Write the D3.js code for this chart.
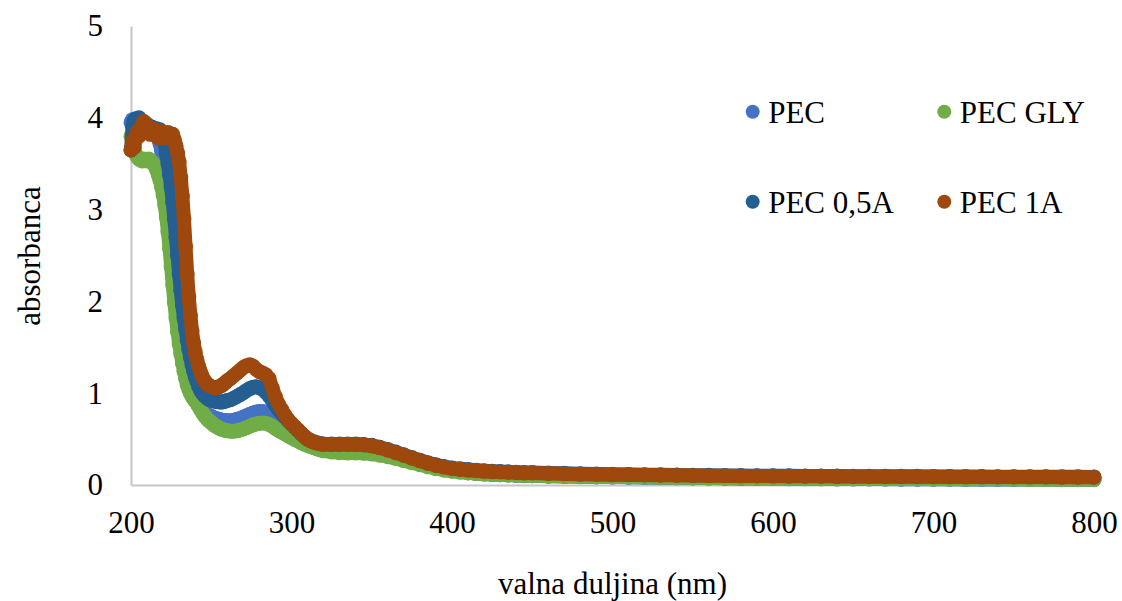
<!DOCTYPE html>
<html>
<head>
<meta charset="utf-8">
<script src="https://cdn.jsdelivr.net/npm/d3@7"></script>
<style>
  html, body { margin: 0; padding: 0; background: #ffffff; }
  svg { display: block; }
</style>
</head>
<body>
<div id="chart"></div>
<script>
// ---- DATA ----
const wavelength = [
  200,201,202,203,204,205,206,207,208,209,
  210,211,212,213,214,215,216,217,218,219,
  220,221,222,223,224,225,226,227,228,229,
  230,231,232,233,234,235,236,237,238,239,
  240,241,242,243,244,245,246,247,248,249,
  250,251,252,253,254,255,256,257,258,259,
  260,
  262,264,266,268,270,272,274,276,278,280,
  282,284,286,288,290,292,294,296,298,300,
  302,304,306,308,310,312,314,316,318,320,
  325,330,335,340,345,350,355,360,365,370,
  375,380,385,390,395,400,405,410,415,420,
  425,430,435,440,445,450,
  460,470,480,490,500,510,520,530,540,550,
  560,570,580,590,600,610,620,630,640,650,
  660,670,680,690,700,710,720,730,740,750,
  760,770,780,790,800
];

const seriesNames = ["PEC", "PEC GLY", "PEC 0,5A", "PEC 1A"];

const pec = [
  3.95,3.98,3.94,3.90,3.92,3.88,3.90,3.86,3.88,3.85,
  3.87,3.84,3.86,3.83,3.85,3.84,3.82,3.78,3.72,3.64,
  3.55,3.42,3.27,3.10,2.92,2.74,2.55,2.37,2.20,2.04,
  1.89,1.75,1.62,1.51,1.41,1.32,1.24,1.17,1.10,1.04,
  0.98,0.94,0.90,0.87,0.84,0.815,0.795,0.78,0.765,0.755,
  0.745,0.737,0.73,0.724,0.718,0.713,0.709,0.705,0.702,0.70,
  0.70,
  0.70,0.705,0.715,0.725,0.74,0.755,0.77,0.785,0.795,0.80,
  0.80,0.79,0.77,0.745,0.715,0.685,0.655,0.625,0.595,0.565,
  0.54,0.515,0.495,0.475,0.46,0.445,0.433,0.423,0.415,0.408,
  0.40,0.39,0.385,0.383,0.378,0.37,0.355,0.336,0.313,0.287,
  0.26,0.234,0.21,0.188,0.17,0.155,0.143,0.133,0.125,0.119,
  0.115,0.111,0.108,0.105,0.102,0.1,
  0.096,0.093,0.09,0.088,0.086,0.084,0.082,0.08,0.078,0.076,
  0.075,0.074,0.072,0.071,0.07,0.069,0.068,0.067,0.066,0.065,
  0.065,0.064,0.063,0.063,0.062,0.062,0.061,0.061,0.06,0.06,
  0.059,0.059,0.058,0.058,0.058
];

const pecGly = [
  3.80,3.72,3.65,3.60,3.57,3.55,3.54,3.53,3.55,3.54,
  3.53,3.55,3.54,3.52,3.50,3.47,3.43,3.38,3.32,3.25,
  3.16,3.05,2.92,2.76,2.58,2.38,2.18,1.99,1.82,1.67,
  1.54,1.43,1.33,1.24,1.16,1.09,1.04,1.00,0.965,0.94,
  0.915,0.89,0.86,0.83,0.80,0.775,0.75,0.73,0.71,0.695,
  0.68,0.665,0.65,0.64,0.63,0.62,0.61,0.605,0.60,0.595,
  0.59,
  0.585,0.585,0.59,0.60,0.61,0.625,0.64,0.655,0.665,0.672,
  0.675,0.672,0.66,0.64,0.615,0.595,0.575,0.555,0.535,0.515,
  0.495,0.48,0.46,0.445,0.43,0.417,0.405,0.393,0.382,0.372,
  0.36,0.352,0.349,0.349,0.346,0.338,0.325,0.308,0.288,0.265,
  0.242,0.22,0.198,0.178,0.162,0.15,0.14,0.132,0.126,0.121,
  0.117,0.113,0.11,0.107,0.104,0.102,
  0.098,0.095,0.092,0.09,0.088,0.086,0.084,0.082,0.08,0.078,
  0.077,0.076,0.074,0.073,0.072,0.071,0.07,0.069,0.068,0.067,
  0.067,0.066,0.065,0.065,0.064,0.064,0.063,0.063,0.062,0.062,
  0.061,0.061,0.06,0.06,0.06
];

const pec05A = [
  3.65,3.90,3.97,3.99,3.98,4.00,3.97,3.95,3.92,3.90,
  3.93,3.90,3.88,3.90,3.88,3.86,3.88,3.85,3.87,3.84,
  3.80,3.72,3.62,3.50,3.38,3.24,3.08,2.90,2.70,2.50,
  2.30,2.12,1.96,1.82,1.70,1.58,1.48,1.39,1.31,1.24,
  1.18,1.13,1.08,1.04,1.01,0.99,0.97,0.955,0.94,0.93,
  0.925,0.92,0.915,0.91,0.91,0.905,0.905,0.905,0.91,0.915,
  0.92,
  0.93,0.945,0.965,0.985,1.005,1.03,1.05,1.065,1.07,1.06,
  1.04,1.01,0.97,0.92,0.87,0.82,0.78,0.74,0.70,0.665,
  0.63,0.595,0.56,0.53,0.503,0.484,0.47,0.46,0.452,0.447,
  0.446,0.446,0.447,0.447,0.442,0.432,0.412,0.387,0.359,0.329,
  0.299,0.27,0.243,0.22,0.201,0.186,0.176,0.168,0.161,0.155,
  0.15,0.146,0.143,0.14,0.137,0.135,
  0.131,0.127,0.123,0.12,0.117,0.115,0.113,0.111,0.109,0.107,
  0.105,0.104,0.103,0.102,0.101,0.1,0.099,0.098,0.097,0.096,
  0.096,0.095,0.094,0.094,0.093,0.093,0.092,0.092,0.091,0.091,
  0.09,0.09,0.089,0.089,0.088
];

const pec1A = [
  3.65,3.75,3.68,3.78,3.85,3.80,3.88,3.93,3.96,3.94,
  3.90,3.85,3.82,3.86,3.88,3.84,3.80,3.78,3.82,3.85,
  3.82,3.78,3.80,3.84,3.83,3.80,3.82,3.76,3.70,3.62,
  3.52,3.35,3.15,2.90,2.60,2.30,2.05,1.85,1.68,1.55,
  1.45,1.37,1.30,1.25,1.20,1.16,1.13,1.11,1.09,1.08,
  1.07,1.065,1.06,1.06,1.065,1.07,1.08,1.09,1.105,1.12,
  1.135,
  1.16,1.19,1.22,1.25,1.28,1.30,1.31,1.295,1.26,1.235,
  1.22,1.20,1.16,1.06,0.96,0.88,0.82,0.76,0.71,0.67,
  0.635,0.60,0.565,0.53,0.50,0.48,0.466,0.455,0.447,0.442,
  0.44,0.44,0.44,0.44,0.435,0.425,0.405,0.38,0.352,0.322,
  0.292,0.263,0.236,0.213,0.195,0.18,0.17,0.162,0.155,0.149,
  0.145,0.141,0.138,0.135,0.132,0.13,
  0.126,0.122,0.118,0.115,0.113,0.111,0.109,0.107,0.105,0.103,
  0.101,0.1,0.099,0.098,0.097,0.096,0.095,0.094,0.093,0.092,
  0.092,0.091,0.09,0.09,0.089,0.089,0.088,0.088,0.087,0.087,
  0.086,0.086,0.085,0.085,0.085
];

const seriesColors = ["#4472C4", "#70AD47", "#255E91", "#9E480E"];
const xTicks = [200, 300, 400, 500, 600, 700, 800];
const yTicks = [0, 1, 2, 3, 4, 5];
const xTitle = "valna duljina (nm)";
const yTitle = "absorbanca";

// ---- CHART ----
const W = 1122, H = 601;
const FONT = "'Liberation Serif','Times New Roman',Times,serif";
const FS = 31;
const R = 7.5;

const svg = d3.select("#chart").append("svg")
  .attr("width", W).attr("height", H)
  .style("background", "#fff");

const x = d3.scaleLinear().domain([200, 800]).range([131, 1094]);
const y = d3.scaleLinear().domain([0, 5]).range([485, 26]);

// axes
const xAxis = svg.append("g").attr("transform", `translate(0,${y(0)})`)
  .call(d3.axisBottom(x).tickValues(xTicks).tickSize(0).tickPadding(26).tickFormat(d3.format("d")));
const yAxis = svg.append("g").attr("transform", `translate(${x(200)},0)`)
  .call(d3.axisLeft(y).tickValues(yTicks).tickSize(0).tickPadding(28).tickFormat(d3.format("d")));

[xAxis, yAxis].forEach(g => {
  g.select(".domain").attr("stroke", "#c6c6c6").attr("stroke-width", 2);
  g.selectAll("text").attr("font-family", FONT).attr("font-size", FS).attr("fill", "#000");
});

// titles
svg.append("text")
  .attr("x", x(500)).attr("y", 594)
  .attr("text-anchor", "middle")
  .attr("font-family", FONT).attr("font-size", FS).attr("fill", "#000")
  .text(xTitle);
svg.append("text")
  .attr("transform", `translate(40,${(y(0) + y(5)) / 2 + 0.5}) rotate(-90)`)
  .attr("text-anchor", "middle")
  .attr("font-family", FONT).attr("font-size", FS).attr("fill", "#000")
  .text(yTitle);

// series
const allSeries = [pec, pecGly, pec05A, pec1A];
const line = d3.line().x(d => x(d[0])).y(d => y(d[1]));

allSeries.forEach((vals, i) => {
  if (vals.length !== wavelength.length) console.error(seriesNames[i], vals.length, wavelength.length);
  const pts = wavelength.map((w, k) => [w, vals[k]]);
  const g = svg.append("g").attr("class", "series");
  g.append("path")
    .datum(pts)
    .attr("d", line)
    .attr("fill", "none")
    .attr("stroke", seriesColors[i])
    .attr("stroke-width", 2 * R - 1)
    .attr("stroke-linecap", "round")
    .attr("stroke-linejoin", "round");
  g.selectAll("circle").data(pts).join("circle")
    .attr("cx", d => x(d[0]))
    .attr("cy", d => y(d[1]))
    .attr("r", R)
    .attr("fill", seriesColors[i]);
});

// legend
const legendPos = [[752.7, 111.7], [944.3, 111.7], [752.7, 201.7], [944.3, 201.7]];
const lg = svg.append("g").attr("class", "legend");
seriesNames.forEach((name, i) => {
  const [lx, ly] = legendPos[i];
  lg.append("circle").attr("cx", lx).attr("cy", ly).attr("r", 7).attr("fill", seriesColors[i]);
  lg.append("text")
    .attr("x", lx + 15.5).attr("y", ly + 11)
    .attr("font-family", FONT).attr("font-size", FS).attr("fill", "#000")
    .text(name);
});
</script>
</body>
</html>
